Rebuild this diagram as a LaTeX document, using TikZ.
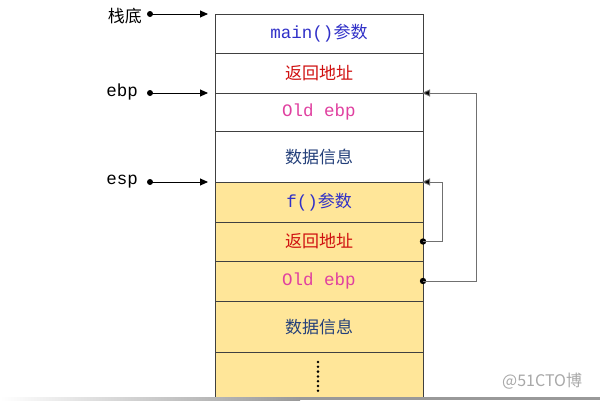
\documentclass[tikz,border=0pt]{standalone}
\usepackage{fontspec}
\setmonofont{Liberation Mono}
\newfontfamily\cjk{Noto Sans CJK SC}
\usetikzlibrary{arrows.meta}
\definecolor{boxyellow}{HTML}{FFE699}
\definecolor{edge}{HTML}{404040}
\definecolor{linkgray}{HTML}{707070}
\definecolor{tblue}{HTML}{3030C8}
\definecolor{tred}{HTML}{D01010}
\definecolor{tpink}{HTML}{E040A0}
\definecolor{tnavy}{HTML}{24407A}
\definecolor{wm}{HTML}{A8A8A8}
\tikzset{
  cell/.style={draw=edge, line width=0.9pt, minimum width=208pt, anchor=north west, inner sep=0pt, outer sep=0pt},
  ycell/.style={cell, fill=boxyellow},
  cjktxt/.style={font=\cjk\fontsize{17}{19}\selectfont},
  monotxt/.style={font=\ttfamily\fontsize{17.5}{19}\selectfont},
  lbl/.style={anchor=east, inner sep=0pt},
  ptr/.style={line width=0.9pt, -{Triangle[length=8pt,width=7pt]}},
  link/.style={draw=linkgray, line width=1pt, -{Triangle[length=8pt,width=7pt,fill=black]}, shorten >=-1pt},
}
\begin{document}
\begin{tikzpicture}[x=1pt,y=-1pt]
\useasboundingbox (0,0) rectangle (600,400);
\fill[white] (0,0) rectangle (600,400);
% cells
\node[cell, minimum height=39pt] (c1) at (215,14) {\textcolor{tblue}{\ttfamily\fontsize{17.5}{19}\selectfont main()}\textcolor{tblue}{\cjk\fontsize{17}{19}\selectfont 参数}};
\node[cell, minimum height=40pt, cjktxt, text=tred] (c2) at (215,53) {返回地址};
\node[cell, minimum height=38pt, monotxt, text=tpink] (c3) at (215,93) {Old ebp};
\node[cell, minimum height=51pt, cjktxt, text=tnavy] (c4) at (215,131) {数据信息};
\node[ycell, minimum height=40pt] (c5) at (215,182) {\textcolor{tblue}{\ttfamily\fontsize{17.5}{19}\selectfont f()}\textcolor{tblue}{\cjk\fontsize{17}{19}\selectfont 参数}};
\node[ycell, minimum height=39pt, cjktxt, text=tred] (c6) at (215,222) {返回地址};
\node[ycell, minimum height=40pt, monotxt, text=tpink] (c7) at (215,261) {Old ebp};
\node[ycell, minimum height=51pt, cjktxt, text=tnavy] (c8) at (215,301) {数据信息};
\node[ycell, minimum height=45pt] (c9) at (215,352) {};
% vertical dots
\foreach \i in {0,...,6} \fill (318,{362+\i*4.8}) circle (1.4pt);
% left pointers
\node[lbl, cjktxt, text=black] (l1) at (142,16) {栈底};
\node[lbl, monotxt, text=black] (l2) at (138,92) {ebp};
\node[lbl, monotxt, text=black] (l3) at (138,182) {esp};
\coordinate (p1) at (150,14);
\coordinate (p2) at (150,93);
\coordinate (p3) at (150,182);
\foreach \p/\c in {p1/c1, p2/c3, p3/c5} {
  \fill (\p) circle (3pt);
  \draw[ptr] (\p) -- ([xshift=-7pt]\c.north west);
}
% right links
\fill (c6.east) circle (3.2pt);
\draw[link] (c6.east) -- ++(19,0) |- (c5.north east);
\fill (c7.east) circle (3.2pt);
\draw[link] (c7.east) -- ++(53,0) |- (c3.north east);
% watermark
\node[anchor=west, inner sep=0pt, text=wm, font=\cjk\fontsize{16}{18}\selectfont] (wm) at (502,381) {@51CTO博};
% bottom bar
\shade[left color=white, right color=gray!80] (0,397) rectangle (300,400);
\fill[gray!80] (300,397) rectangle (600,400);
\end{tikzpicture}
\end{document}
